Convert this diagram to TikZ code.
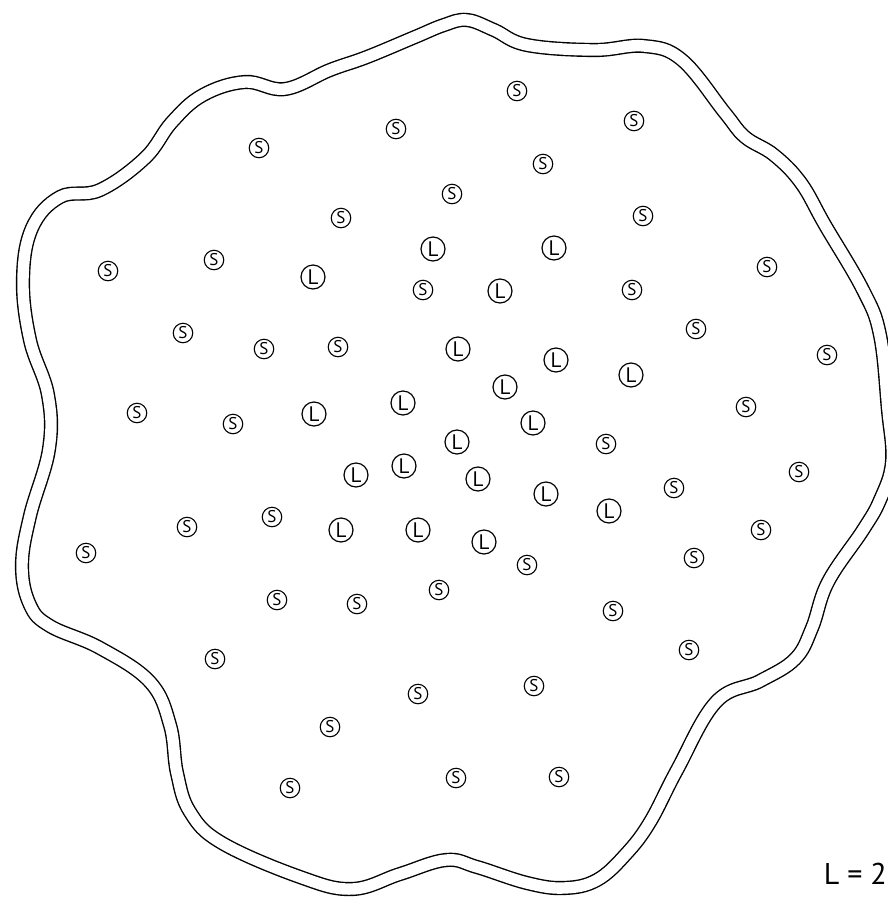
\documentclass[tikz,border=0pt]{standalone}
\usepackage{fontspec}
\setmainfont{PT Sans}
\begin{document}
\begin{tikzpicture}[x=1pt, y=-1pt,
    sion/.style={circle, draw, line width=1.1pt, minimum size=19.5pt, inner sep=0pt, font=\fontsize{17}{17}\selectfont},
    lion/.style={circle, draw, line width=1.2pt, minimum size=24pt, inner sep=0pt, font=\fontsize{21}{21}\selectfont}]
    \useasboundingbox (0,0) rectangle (888,898);
    \clip (0,0) rectangle (888,898);
    % wavy boundary
    \draw[line width=1.4pt, double, double distance=11.4pt] plot[smooth cycle, tension=0.65] coordinates {
        (444,25) (467,20) (494,30) (527,45) (594,50) (644,46) (682,60)
        (725,113) (745,137) (774,155) (801,183) (825,225) (863,290)
        (880,335) (888,410) (892,462) (880,500) (863,530)
        (828,582) (812,628) (795,659) (760,681) (716,702)
        (677,770) (650,822) (626,854) (597,880) (564,888) (527,883) (477,867)
        (446,860) (400,874) (352,889) (300,877) (222,843)
        (190,812) (177,773) (170,725) (150,682) (100,648) (50,626)
        (30,605) (22,566) (30,516) (49,449) (48,395) (30,340)
        (23,280) (32,228) (60,197) (100,190) (145,158) (172,122) (203,95)
        (245,82) (285,89) (330,70) (367,57) (415,37)};
    % small ones
    \node[sion] (s1) at (517,91) {S};
    \node[sion] (s2) at (634,121) {S};
    \node[sion] (s3) at (396,129) {S};
    \node[sion] (s4) at (259,148) {S};
    \node[sion] (s5) at (543,164) {S};
    \node[sion] (s6) at (452,194) {S};
    \node[sion] (s7) at (341,218) {S};
    \node[sion] (s8) at (643,216) {S};
    \node[sion] (s9) at (108,271) {S};
    \node[sion] (s10) at (214,260) {S};
    \node[sion] (s11) at (767,267) {S};
    \node[sion] (s12) at (423,290) {S};
    \node[sion] (s13) at (632,290) {S};
    \node[sion] (s14) at (183,333) {S};
    \node[sion] (s15) at (264,349) {S};
    \node[sion] (s16) at (338,347) {S};
    \node[sion] (s17) at (696,329) {S};
    \node[sion] (s18) at (827,355) {S};
    \node[sion] (s19) at (137,413) {S};
    \node[sion] (s20) at (233,424) {S};
    \node[sion] (s21) at (746,407) {S};
    \node[sion] (s22) at (606,444) {S};
    \node[sion] (s23) at (799,472) {S};
    \node[sion] (s24) at (674,488) {S};
    \node[sion] (s25) at (187,527) {S};
    \node[sion] (s26) at (272,517) {S};
    \node[sion] (s27) at (761,530) {S};
    \node[sion] (s28) at (86,553) {S};
    \node[sion] (s29) at (527,565) {S};
    \node[sion] (s30) at (694,558) {S};
    \node[sion] (s31) at (277,600) {S};
    \node[sion] (s32) at (357,604) {S};
    \node[sion] (s33) at (439,590) {S};
    \node[sion] (s34) at (613,611) {S};
    \node[sion] (s35) at (689,650) {S};
    \node[sion] (s36) at (215,659) {S};
    \node[sion] (s37) at (534,686) {S};
    \node[sion] (s38) at (418,694) {S};
    \node[sion] (s39) at (330,727) {S};
    \node[sion] (s40) at (290,788) {S};
    \node[sion] (s41) at (456,778) {S};
    \node[sion] (s42) at (559,777) {S};
    % large ones
    \node[lion] (l1) at (433,249) {L};
    \node[lion] (l2) at (554,248) {L};
    \node[lion] (l3) at (313,277) {L};
    \node[lion] (l4) at (500,291) {L};
    \node[lion] (l5) at (458,349) {L};
    \node[lion] (l6) at (556,360) {L};
    \node[lion] (l7) at (631,375) {L};
    \node[lion] (l8) at (505,387) {L};
    \node[lion] (l9) at (403,403) {L};
    \node[lion] (l10) at (314,414) {L};
    \node[lion] (l11) at (533,423) {L};
    \node[lion] (l12) at (457,442) {L};
    \node[lion] (l13) at (356,475) {L};
    \node[lion] (l14) at (404,466) {L};
    \node[lion] (l15) at (478,479) {L};
    \node[lion] (l16) at (546,494) {L};
    \node[lion] (l17) at (609,511) {L};
    \node[lion] (l18) at (341,530) {L};
    \node[lion] (l19) at (418,530) {L};
    \node[lion] (l20) at (484,542) {L};
    \node[anchor=base east, inner sep=0pt, font=\fontsize{30}{30}\selectfont] (len) at (887,884) {L = 2};
\end{tikzpicture}
\end{document}
